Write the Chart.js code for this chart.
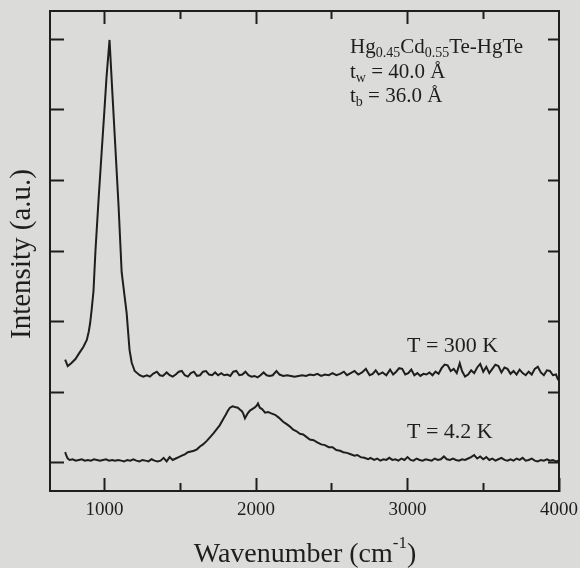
<!DOCTYPE html>
<html>
<head>
<meta charset="utf-8">
<script src="https://cdn.jsdelivr.net/npm/chart.js@4.4.0/dist/chart.umd.min.js"></script>
<style>
  html, body { margin: 0; padding: 0; background: #dbdbd9; }
  #wrap { width: 580px; height: 568px; }
</style>
</head>
<body>
<div id="wrap"><canvas id="chart" width="580" height="568"></canvas></div>
<script>
// T = 300 K spectrum (wavenumber in cm-1, intensity in a.u.)
const wn300 = [
  740, 757, 780, 808, 835, 860, 883, 896, 905, 915, 927, 940, 960, 980, 1000, 1013, 1033,
  1053, 1073, 1093, 1113, 1146, 1165, 1179, 1199, 1232,
  1255, 1280, 1300, 1320, 1345, 1365, 1385, 1410, 1430, 1450, 1470, 1490, 1510, 1530, 1550,
  1570, 1590, 1610, 1630, 1650, 1670, 1690, 1710, 1730, 1750, 1770, 1790, 1810, 1830, 1850,
  1870, 1890, 1910, 1930, 1950, 1970, 1990, 2010, 2030, 2050, 2070, 2090, 2110, 2135, 2155,
  2180, 2205, 2230, 2255, 2280, 2305, 2330, 2355, 2380, 2405, 2430, 2455, 2480, 2505, 2530,
  2555, 2580, 2600, 2625, 2650, 2675, 2700, 2725, 2750, 2770, 2790, 2810, 2835, 2860, 2885,
  2905, 2925, 2945, 2965, 2985, 3005, 3025, 3045, 3065, 3085, 3105, 3125, 3145, 3165, 3185,
  3205, 3225, 3245, 3265, 3285, 3305, 3325, 3345, 3360, 3380, 3400, 3420, 3440, 3460, 3480,
  3500, 3520, 3540, 3560, 3580, 3600, 3620, 3640, 3660, 3680, 3700, 3720, 3740, 3760, 3780,
  3800, 3820, 3840, 3860, 3880, 3900, 3920, 3940, 3960, 3980, 3995
];
const int300 = [
  1.46, 1.37, 1.41, 1.47, 1.56, 1.64, 1.74, 1.86, 1.98, 2.17, 2.43, 3.00, 3.71, 4.37, 5.02, 5.46, 5.99,
  5.19, 4.41, 3.62, 2.70, 2.12, 1.60, 1.42, 1.30, 1.24,
  1.22, 1.24, 1.22, 1.26, 1.29, 1.24, 1.23, 1.28, 1.24, 1.22, 1.25, 1.29, 1.30, 1.24, 1.22,
  1.27, 1.29, 1.23, 1.24, 1.29, 1.30, 1.25, 1.24, 1.28, 1.24, 1.27, 1.24, 1.25, 1.23, 1.29,
  1.30, 1.24, 1.25, 1.29, 1.24, 1.22, 1.23, 1.21, 1.24, 1.28, 1.24, 1.23, 1.24, 1.30, 1.25,
  1.23, 1.24, 1.23, 1.22, 1.23, 1.24, 1.23, 1.25, 1.24, 1.26, 1.23, 1.25, 1.24, 1.27, 1.24,
  1.26, 1.29, 1.24, 1.27, 1.30, 1.25, 1.28, 1.33, 1.24, 1.26, 1.31, 1.25, 1.28, 1.24, 1.32,
  1.25, 1.29, 1.34, 1.33, 1.25, 1.27, 1.32, 1.24, 1.27, 1.23, 1.26, 1.25, 1.28, 1.24, 1.29,
  1.26, 1.34, 1.39, 1.38, 1.30, 1.33, 1.27, 1.41, 1.30, 1.22, 1.25, 1.31, 1.27, 1.35, 1.40,
  1.29, 1.36, 1.27, 1.33, 1.39, 1.37, 1.28, 1.35, 1.33, 1.26, 1.30, 1.25, 1.32, 1.27, 1.24,
  1.29, 1.25, 1.33, 1.36, 1.28, 1.24, 1.31, 1.30, 1.24, 1.25, 1.17
];

// T = 4.2 K spectrum
const wn42 = [
  740, 748, 757, 770, 790, 810, 830, 850, 870, 890, 910, 930, 950, 970, 990, 1010, 1030,
  1050, 1070, 1090, 1110, 1130, 1150, 1170, 1190, 1210, 1230, 1250, 1270, 1290, 1310, 1330,
  1350, 1370, 1390, 1410, 1430, 1450, 1470, 1490, 1510, 1530, 1550, 1570, 1590, 1610, 1630,
  1650, 1675, 1700, 1720, 1742, 1760, 1781, 1800, 1815, 1828, 1845, 1861, 1880, 1895, 1907,
  1915, 1927, 1945, 1960, 1975, 1990, 2005, 2013, 2025, 2040, 2060, 2080, 2100, 2126, 2150,
  2179, 2200, 2220, 2245, 2265, 2290, 2311, 2330, 2355, 2380, 2404, 2430, 2455, 2480, 2505,
  2530, 2555, 2576, 2600, 2625, 2650, 2669, 2690, 2715, 2740, 2755, 2780, 2800, 2820, 2841,
  2860, 2880, 2900, 2920, 2940, 2960, 2980, 3000, 3020, 3040, 3060, 3080, 3100, 3120, 3140,
  3160, 3180, 3200, 3220, 3240, 3260, 3280, 3300, 3320, 3340, 3360, 3380, 3400, 3420, 3440,
  3460, 3480, 3500, 3520, 3540, 3560, 3580, 3600, 3620, 3640, 3660, 3680, 3700, 3720, 3740,
  3760, 3780, 3800, 3820, 3840, 3860, 3880, 3900, 3920, 3940, 3960, 3980, 3995
];
const int42 = [
  0.15, 0.10, 0.06, 0.04, 0.05, 0.03, 0.04, 0.05, 0.03, 0.04, 0.03, 0.05, 0.04, 0.03, 0.04, 0.05, 0.03,
  0.04, 0.03, 0.04, 0.03, 0.02, 0.04, 0.03, 0.05, 0.03, 0.02, 0.04, 0.03, 0.02, 0.05, 0.03,
  0.02, 0.03, 0.07, 0.02, 0.08, 0.04, 0.06, 0.08, 0.10, 0.12, 0.15, 0.16, 0.17, 0.19, 0.23,
  0.26, 0.31, 0.37, 0.42, 0.48, 0.53, 0.61, 0.68, 0.74, 0.78, 0.80, 0.79, 0.78, 0.75, 0.73,
  0.70, 0.63, 0.70, 0.74, 0.76, 0.78, 0.81, 0.84, 0.78, 0.76, 0.71, 0.72, 0.70, 0.68, 0.64,
  0.58, 0.55, 0.52, 0.47, 0.45, 0.41, 0.40, 0.37, 0.33, 0.32, 0.29, 0.26, 0.25, 0.22, 0.22,
  0.18, 0.17, 0.15, 0.14, 0.12, 0.10, 0.11, 0.08, 0.07, 0.05, 0.07, 0.04, 0.06, 0.03, 0.05,
  0.04, 0.07, 0.04, 0.05, 0.03, 0.06, 0.04, 0.08, 0.04, 0.03, 0.06, 0.04, 0.03, 0.05, 0.04,
  0.03, 0.06, 0.04, 0.05, 0.09, 0.05, 0.04, 0.06, 0.04, 0.03, 0.05, 0.04, 0.06, 0.08, 0.11,
  0.06, 0.09, 0.05, 0.08, 0.04, 0.06, 0.03, 0.05, 0.07, 0.04, 0.03, 0.05, 0.03, 0.06, 0.04,
  0.07, 0.03, 0.04, 0.06, 0.03, 0.02, 0.04, 0.03, 0.05, 0.03, 0.04, 0.02, 0.03
];

const xMajorTicks = [1000, 2000, 3000, 4000];
const xTickLabels = ['1000', '2000', '3000', '4000'];
const xMinorTicks = [1500, 2500, 3500];
const yTicks = [0, 1, 2, 3, 4, 5, 6];

const ink = '#1e1e1e';
const serif = "'Liberation Serif', serif";

function toPoints(xs, ys) {
  return xs.map((x, i) => ({ x: x, y: ys[i] }));
}

function setTicks(list) {
  return scale => { scale.ticks = list.map(v => ({ value: v })); };
}

// fixes the box size of an axis so the plot frame lands where the figure has it
function fixSize(h, w) {
  return s => {
    if (h !== null) s.height = h;
    if (w !== null) s.width = w;
    s.paddingLeft = 0; s.paddingRight = 0; s.paddingTop = 0; s.paddingBottom = 0;
  };
}

// draws text pieces one after the other (for sub/superscripts)
function drawRuns(ctx, x, y, runs, center) {
  let total = 0;
  runs.forEach(r => {
    ctx.font = r[1] + 'px ' + serif;
    total += ctx.measureText(r[0]).width;
  });
  let cx = center ? x - total / 2 : x;
  runs.forEach(r => {
    ctx.font = r[1] + 'px ' + serif;
    ctx.fillText(r[0], cx, y + r[2]);
    cx += ctx.measureText(r[0]).width;
  });
}

const textPlugin = {
  id: 'figureText',
  afterDraw(chart) {
    const ctx = chart.ctx;
    ctx.save();
    ctx.fillStyle = ink;
    ctx.textBaseline = 'alphabetic';
    ctx.textAlign = 'left';

    // axis titles
    drawRuns(ctx, 305, 562, [['Wavenumber (cm', 28, 0], ['-1', 17, -14], [')', 28, 0]], true);
    ctx.save();
    ctx.translate(30, 254);
    ctx.rotate(-Math.PI / 2);
    drawRuns(ctx, 0, 0, [['Intensity (a.u.)', 29, 0]], true);
    ctx.restore();

    // sample info
    drawRuns(ctx, 350, 53, [['Hg', 21, 0], ['0.45', 14, 4], ['Cd', 21, 0], ['0.55', 14, 4], ['Te-HgTe', 21, 0]]);
    drawRuns(ctx, 350, 78, [['t', 21, 0], ['w', 14, 4], [' = 40.0 Å', 21, 0]]);
    drawRuns(ctx, 350, 102, [['t', 21, 0], ['b', 14, 4], [' = 36.0 Å', 21, 0]]);

    // curve labels
    drawRuns(ctx, 407, 352, [['T = 300 K', 22, 0]]);
    drawRuns(ctx, 407, 438, [['T = 4.2 K', 22, 0]]);
    ctx.restore();
  }
};

const xRange = { min: 640, max: 4000 };
const yRange = { min: -0.4, max: 6.4 };

function tickGrid(len) {
  return { drawOnChartArea: false, drawTicks: true, tickLength: -len, tickWidth: 2, tickColor: ink };
}

new Chart(document.getElementById('chart'), {
  type: 'line',
  data: {
    datasets: [
      { label: 'T = 300 K', data: toPoints(wn300, int300), borderColor: ink, borderWidth: 2, pointRadius: 0, tension: 0, fill: false },
      { label: 'T = 4.2 K', data: toPoints(wn42, int42), borderColor: ink, borderWidth: 2, pointRadius: 0, tension: 0, fill: false }
    ]
  },
  options: {
    responsive: false,
    animation: false,
    devicePixelRatio: 1,
    layout: { padding: 0 },
    plugins: { legend: { display: false }, tooltip: { enabled: false } },
    scales: {
      x: {
        type: 'linear', position: 'bottom', weight: 1, ...xRange,
        afterBuildTicks: setTicks(xMajorTicks),
        afterFit: fixSize(77, null),
        grid: tickGrid(13),
        border: { display: true, color: ink, width: 2 },
        ticks: {
          color: ink, font: { family: serif, size: 19 }, padding: 21,
          maxRotation: 0, autoSkip: false,
          callback: (v, i) => xTickLabels[i]
        }
      },
      xMinor: {
        type: 'linear', position: 'bottom', weight: 0, ...xRange,
        afterBuildTicks: setTicks(xMinorTicks),
        afterFit: fixSize(0, null),
        grid: tickGrid(8),
        border: { display: false },
        ticks: { display: false }
      },
      xTop: {
        type: 'linear', position: 'top', weight: 1, ...xRange,
        afterBuildTicks: setTicks(xMajorTicks.slice(0, 3)),
        afterFit: fixSize(11, null),
        grid: tickGrid(13),
        border: { display: true, color: ink, width: 2 },
        ticks: { display: false }
      },
      xTopMinor: {
        type: 'linear', position: 'top', weight: 0, ...xRange,
        afterBuildTicks: setTicks(xMinorTicks),
        afterFit: fixSize(0, null),
        grid: tickGrid(8),
        border: { display: false },
        ticks: { display: false }
      },
      y: {
        type: 'linear', position: 'left', ...yRange,
        afterBuildTicks: setTicks(yTicks),
        afterFit: fixSize(null, 50),
        grid: tickGrid(14),
        border: { display: true, color: ink, width: 2 },
        ticks: { display: false }
      },
      yRight: {
        type: 'linear', position: 'right', ...yRange,
        afterBuildTicks: setTicks(yTicks),
        afterFit: fixSize(null, 21),
        grid: tickGrid(11),
        border: { display: true, color: ink, width: 2 },
        ticks: { display: false }
      }
    }
  },
  plugins: [textPlugin]
});
</script>
</body>
</html>
